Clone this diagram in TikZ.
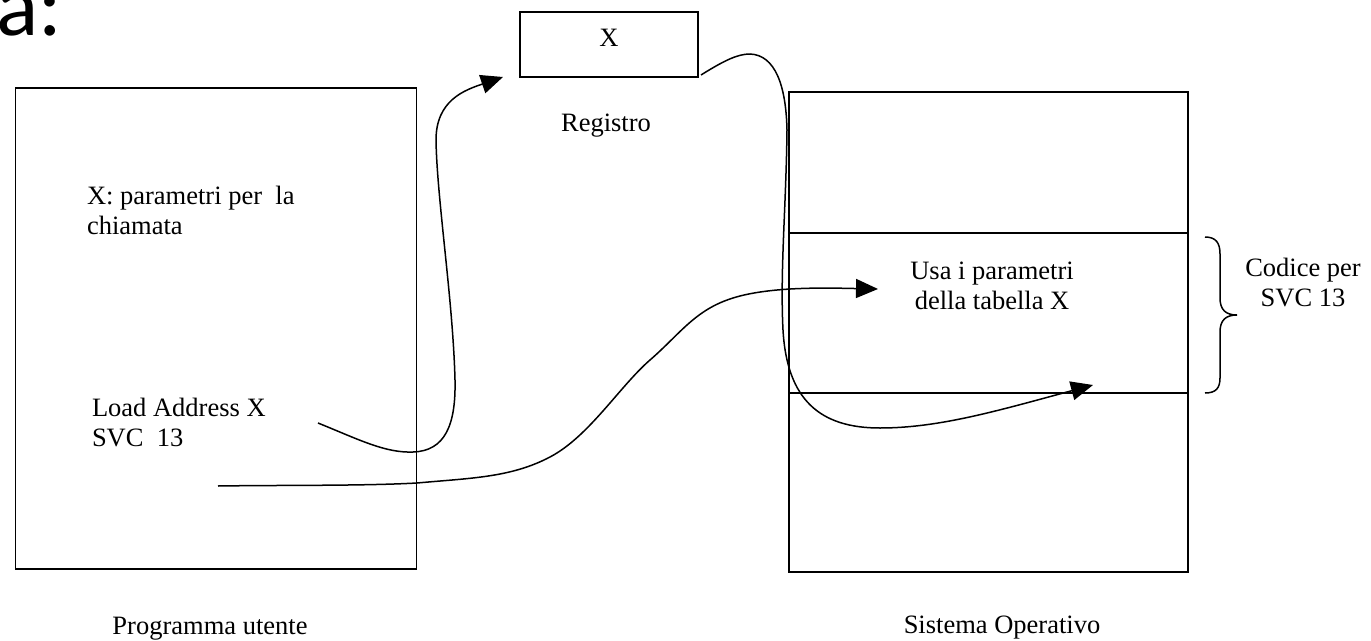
\documentclass[tikz,border=0pt]{standalone}
\usepackage{fontspec}
\setmainfont{Liberation Serif}
\newfontfamily\slidefont{Carlito}
\usetikzlibrary{arrows.meta}
\begin{document}
\begin{tikzpicture}[x=1pt,y=-1pt,
  every node/.style={inner sep=0pt, outer sep=0pt, font=\fontsize{26.5}{29.5}\selectfont},
  frame/.style={draw, line width=1.7pt, rectangle},
  conn/.style={line width=1.5pt, -{Triangle[length=22pt,width=19pt]}},
  brace/.style={line width=1.5pt}]
\useasboundingbox (0,0) rectangle (1371,640);

% slide title fragment
\node[anchor=base west, font=\slidefont\fontsize{88}{90}\selectfont] (title) at (-4,35) {a:};

% user program (base anchor of a multi-line node = last line's baseline)
\node[frame, minimum width=401pt, minimum height=481pt] (prog) at (216,328.5) {};
\node[anchor=base west, align=left] (params) at (87,234) {X: parametri per~ la\\chiamata};
\node[anchor=base west, align=left] (load) at (92,446) {Load Address X\\SVC~ 13};
\node[anchor=base] (progcap) at (210,634) {Programma utente};

% register
\node[frame, minimum width=178pt, minimum height=65pt] (reg) at (609,44.5) {};
\node[anchor=base] (regx) at (609,46) {X};
\node[anchor=base] (regcap) at (606,131) {Registro};

% operating system, three stacked areas
\node[frame, minimum width=399pt, minimum height=141pt] (osA) at (988.5,162.5) {};
\node[frame, minimum width=399pt, minimum height=160pt] (osB) at (988.5,313) {};
\node[frame, minimum width=399pt, minimum height=179pt] (osC) at (988.5,482.5) {};
\node[anchor=base, align=center] (usa) at (992,309) {Usa i parametri\\della tabella X};
\node[anchor=base] (oscap) at (1002,633) {Sistema Operativo};

% brace marking the SVC 13 handler
\draw[brace] (1205,237) .. controls (1216,237) and (1220,243) .. (1220,254)
  -- (1220,298) .. controls (1220,310) and (1226,315) .. (1237,315)
  .. controls (1226,315) and (1220,320) .. (1220,332)
  -- (1220,378) .. controls (1220,388) and (1216,393) .. (1205,393);
\node[anchor=base, align=center] (codice) at (1303,306) {Codice per\\SVC 13};

% connector end points
\coordinate (ldS) at (318,423);
\coordinate (ldE) at (503,77);
\coordinate (svcS) at (218,486);
\coordinate (svcE) at (878,289);
\coordinate (regS) at (701,75);
\coordinate (regE) at (1093,385);

% Load Address X -> register
\draw[conn] (ldS) .. controls (360,440) and (385,453) .. (413,452)
  .. controls (445,451) and (456,425) .. (455,380)
  .. controls (453,300) and (437,200) .. (436,140)
  .. controls (436,100) and (465,90) .. (ldE);

% SVC 13 -> handler code
\draw[conn] (svcS) .. controls (284,485) and (362,486) .. (417,483)
  .. controls (472,478) and (511,477.5) .. (550,457)
  .. controls (589,436.5) and (619.5,386.5) .. (650,360)
  .. controls (680.5,333.5) and (695,309.8) .. (733,298)
  .. controls (771,286) and (830,288) .. (svcE);

% register -> table X
\draw[conn] (regS) .. controls (725,60) and (738,54) .. (750,54)
  .. controls (775,55) and (786,85) .. (787,130)
  .. controls (786,210) and (780,270) .. (783,330)
  .. controls (787,400) and (820,428) .. (880,428)
  .. controls (940,428) and (1000,410) .. (regE);
\end{tikzpicture}
\end{document}
